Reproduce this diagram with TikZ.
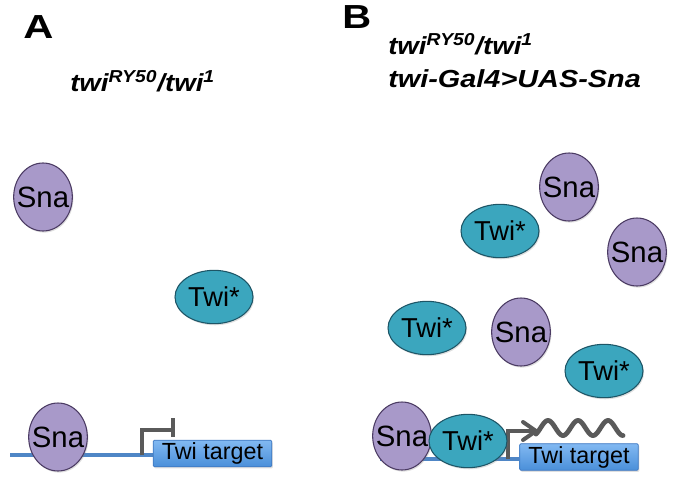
\documentclass[tikz,border=0pt]{standalone}
\usepackage{fontspec}
\usepackage{graphicx}
\setmainfont{Liberation Sans}
\usetikzlibrary{shapes.geometric,shadows,backgrounds,arrows.meta}
\definecolor{snafill}{HTML}{A899C9}
\definecolor{snaedge}{HTML}{4B3B63}
\definecolor{twifill}{HTML}{3BA6BE}
\definecolor{twiedge}{HTML}{1D5566}
\definecolor{boxtop}{HTML}{82B9F2}
\definecolor{boxbot}{HTML}{4A8FD9}
\definecolor{boxedge}{HTML}{3F78C0}
\definecolor{dnaline}{HTML}{4F86C6}
\definecolor{promgray}{HTML}{5A5A5A}
\newcommand{\fixw}[1]{\makebox[0pt][c]{#1}}
\tikzset{
  shade/.style={drop shadow={opacity=0.25,shadow xshift=0.8pt,shadow yshift=-1.2pt}},
  sna/.style={ellipse,draw=snaedge,line width=0.8pt,fill=snafill,shade,
    minimum width=44pt,minimum height=51pt,inner sep=0pt,
    font=\fontsize{22}{24}\selectfont},
  twi/.style={ellipse,draw=twiedge,line width=0.8pt,fill=twifill,shade,
    minimum width=58.5pt,minimum height=40pt,inner sep=0pt,
    font=\fontsize{20.5}{24}\selectfont},
  target/.style={rectangle,draw=boxedge,line width=0.6pt,top color=boxtop,bottom color=boxbot,
    rounded corners=1pt,shade,minimum width=89pt,minimum height=20pt,inner sep=0pt,
    font=\fontsize{17.5}{20}\selectfont},
  dna/.style={draw=dnaline,line width=2.4pt},
  prom/.style={draw=promgray,line width=2.6pt},
  panel/.style={font=\fontsize{25}{28}\selectfont\bfseries,inner sep=0pt,anchor=base west},
  geno/.style={font=\fontsize{18.5}{22}\selectfont\bfseries\itshape,inner sep=0pt,anchor=base west}
}
\begin{document}
\begin{tikzpicture}[x=0.75pt,y=-0.75pt]
\useasboundingbox (0,0) rectangle (678,486);
% Panel A
\node[panel] (labA) at (23,38) {\scalebox{1.25}[1]{A}};
\node[geno] (genA) at (70,91) {\scalebox{1.12}[1]{twi\textsuperscript{RY50}/twi\textsuperscript{1}}};
\node[sna] (snaA1) at (43,197) {\fixw{Sna}};
\node[twi] (twiA1) at (214,297) {\fixw{Twi*}};
\node[sna] (snaA2) at (58,437) {\fixw{Sna}};
\node[target] (boxA) at (212.5,453.5) {Twi target};
\coordinate (lA) at (10,455);
\coordinate (pA) at (142,455);
\coordinate (tA) at (173,430);
\begin{scope}[on background layer]
  \draw[dna] (lA) -- (lA -| boxA.west);
\end{scope}
\draw[prom] (pA) |- (tA);
\draw[prom] (tA) ++(0,-12) -- ++(0,19);
% Panel B
\node[panel] (labB) at (342,28) {\scalebox{1.2}[1]{B}};
\node[geno] (genB1) at (388,54) {\scalebox{1.12}[1]{twi\textsuperscript{RY50}/twi\textsuperscript{1}}};
\node[geno] (genB2) at (388,87) {\scalebox{1.17}[1]{twi-Gal4>UAS-Sna}};
\node[sna] (snaB1) at (569,187) {\fixw{Sna}};
\node[twi] (twiB1) at (500,231) {\fixw{Twi*}};
\node[sna] (snaB2) at (637,252) {\fixw{Sna}};
\node[twi] (twiB2) at (427,328) {\fixw{Twi*}};
\node[sna] (snaB3) at (521,332) {\fixw{Sna}};
\node[twi] (twiB3) at (604,371) {\fixw{Twi*}};
\node[target] (boxB) at (579,457) {Twi target};
\coordinate (lB) at (380,459);
\coordinate (pB) at (508,459);
\coordinate (tB) at (536,431);
\begin{scope}[on background layer]
  \draw[dna] (lB) -- (lB -| boxB.west);
\end{scope}
\draw[prom] (pB) |- (tB);
\draw[promgray,line width=3pt,line cap=round,line join=round] (tB) ++(-13,-9) -- (tB) -- ++(-13,9);
\begin{scope}[shift={(tB)}]
  \draw[prom,line width=3.6pt,line cap=round] plot[domain=0:87,samples=80,smooth] ({\x},{-3-7.5*sin((\x-4.5)*12)});
\end{scope}
\node[sna] (snaB4) at (402,436) {\fixw{Sna}};
\node[twi] (twiB4) at (468,441) {\fixw{Twi*}};
\end{tikzpicture}
\end{document}
